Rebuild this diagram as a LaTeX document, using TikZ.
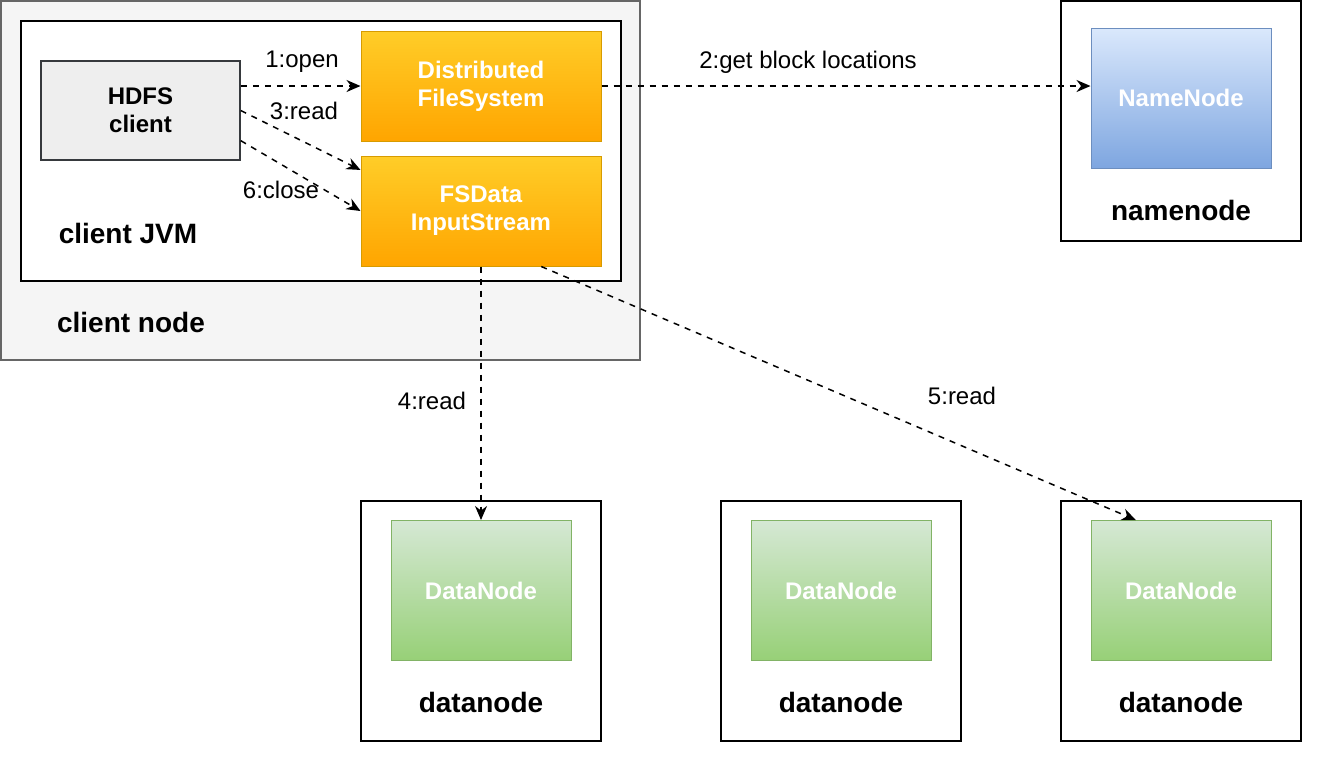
\documentclass[tikz,border=0pt]{standalone}
\usepackage{fontspec}
\setmainfont{Liberation Sans}
\usetikzlibrary{arrows.meta,positioning,calc}
\definecolor{clientfill}{HTML}{F5F5F5}
\definecolor{clientline}{HTML}{666666}
\definecolor{hdfsfill}{HTML}{EEEEEE}
\definecolor{hdfsline}{HTML}{36393D}
\definecolor{orangetop}{HTML}{FFCD28}
\definecolor{orangebot}{HTML}{FFA500}
\definecolor{orangeline}{HTML}{D79B00}
\definecolor{bluetop}{HTML}{DAE8FC}
\definecolor{bluebot}{HTML}{7EA6E0}
\definecolor{blueline}{HTML}{6C8EBF}
\definecolor{greentop}{HTML}{D5E8D4}
\definecolor{greenbot}{HTML}{97D077}
\definecolor{greenline}{HTML}{82B366}
\tikzset{
  hostbox/.style={draw, line width=1pt, fill=white, minimum width=120pt, minimum height=120pt, inner sep=0pt},
  hostlabel/.style={font=\fontsize{14}{16}\selectfont\bfseries, inner sep=0pt},
  boxtext/.style={font=\fontsize{12}{14}\selectfont\bfseries, align=center, inner sep=0pt},
  classbox/.style={boxtext, draw=orangeline, line width=0.5pt, top color=orangetop, bottom color=orangebot, minimum width=120pt, minimum height=55pt, text=white},
  namebox/.style={boxtext, draw=blueline, line width=0.5pt, top color=bluetop, bottom color=bluebot, minimum width=90pt, minimum height=70pt, text=white},
  databox/.style={boxtext, draw=greenline, line width=0.5pt, top color=greentop, bottom color=greenbot, minimum width=90pt, minimum height=70pt, text=white},
  flow/.style={dashed, line width=0.75pt, -{Stealth[length=7pt,width=6pt]}},
  steplabel/.style={inner sep=0pt}
}
\begin{document}
\begin{tikzpicture}[x=0.5pt, y=-0.5pt, font=\fontsize{12}{14}\selectfont]
  \useasboundingbox (0,0) rectangle (1326,768);

  % client side
  \node[draw=clientline, line width=0.75pt, fill=clientfill, minimum width=319.5pt, minimum height=179.5pt, inner sep=0pt] (cnode) at (320.5,180.5) {};
  \node[hostlabel] at (131,322) {client node};
  \node[draw, line width=1pt, fill=white, minimum width=300pt, minimum height=130pt, inner sep=0pt] (jvm) at (321,151) {};
  \node[hostlabel] at (128,233) {client JVM};
  \node[boxtext, draw=hdfsline, line width=0.75pt, fill=hdfsfill, minimum width=99.5pt, minimum height=49.5pt] (hdfs) at (140.5,110.5) {HDFS\\client};
  \node[classbox] (dfs) at (481,86) {Distributed\\FileSystem};
  \node[classbox, below=7pt of dfs] (fsd) {FSData\\InputStream};

  % namenode
  \node[hostbox] (nnhost) at (1181,120.5) {};
  \node[namebox, below=14pt of nnhost.north] (nn) {NameNode};
  \node[hostlabel] at (1181,210) {namenode};

  % datanodes
  \foreach \i/\x in {1/481,2/841,3/1181} {
    \node[hostbox] (dnhost\i) at (\x,621) {};
    \node[databox, below=10pt of dnhost\i.north] (dn\i) {DataNode};
    \node[hostlabel] at (\x,702) {datanode};
  }

  % calls
  \draw[flow] (hdfs.east |- dfs.west) -- (dfs.west);
  \node[steplabel] at (302,62) {1:open};
  \draw[flow] (dfs.east) -- (dfs.east -| nn.west);
  \node[steplabel] at (808,62) {2:get block locations};
  \draw[flow] (hdfs.east) -- ($(fsd.north west)!0.13!(fsd.south west)$);
  \node[steplabel] at (304,111) {3:read};
  \draw[flow] (fsd.south) -- (dn1.north);
  \node[steplabel] at (432,401) {4:read};
  \draw[flow] ($(fsd.south)!0.5!(fsd.south east)$) -- ($(dn3.north west)!0.25!(dn3.north east)$);
  \node[steplabel] at (962,396) {5:read};
  \draw[flow] ($(hdfs.north east)!0.8!(hdfs.south east)$) -- (fsd.west);
  \node[steplabel] at (281,190) {6:close};
\end{tikzpicture}
\end{document}
